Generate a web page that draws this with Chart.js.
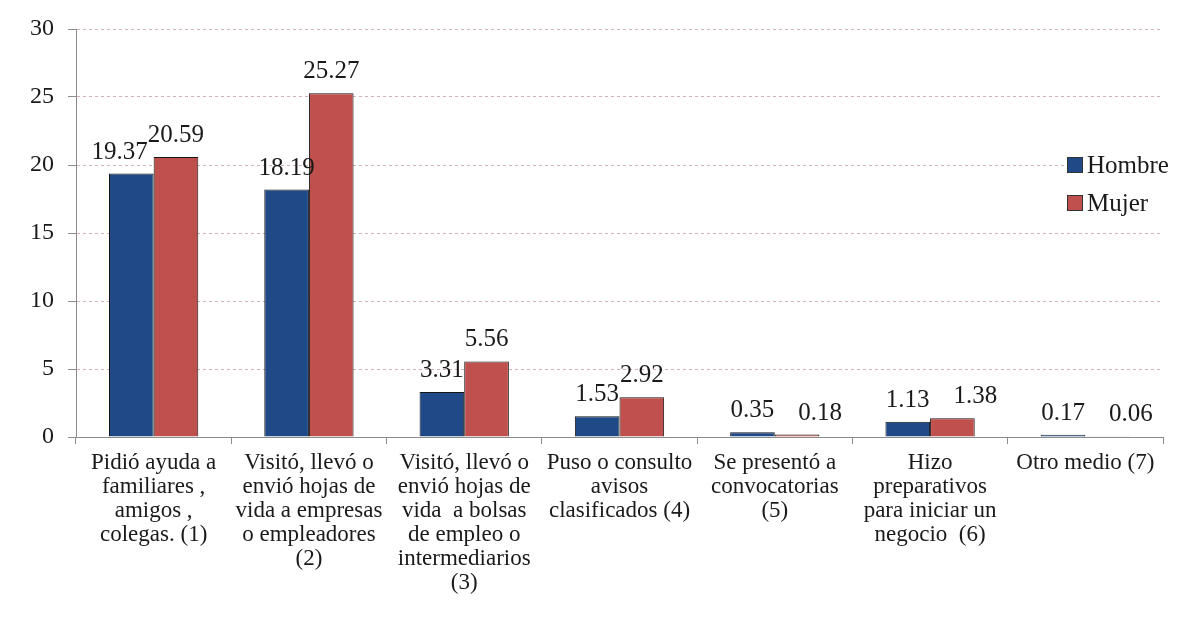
<!DOCTYPE html>
<html>
<head>
<meta charset="utf-8">
<script src="https://cdn.jsdelivr.net/npm/chart.js@4/dist/chart.umd.min.js"></script>
<style>
  body { margin: 0; background: #fff; }
  #wrap { width: 1177px; height: 629px; }
</style>
</head>
<body>
<div id="wrap"><canvas id="barChart"></canvas></div>
<script>
// Categories (multi-line labels)
const categories = [
    ['Pidió ayuda a', 'familiares ,', 'amigos ,', 'colegas. (1)'],
    ['Visitó, llevó o', 'envió hojas de', 'vida a empresas', 'o empleadores', '(2)'],
    ['Visitó, llevó o', 'envió hojas de', 'vida  a bolsas', 'de empleo o', 'intermediarios', '(3)'],
    ['Puso o consulto', 'avisos', 'clasificados (4)'],
    ['Se presentó a', 'convocatorias', '(5)'],
    ['Hizo', 'preparativos', 'para iniciar un', 'negocio  (6)'],
    ['Otro medio (7)'],
];

// Series values
const hombre = [19.37, 18.19, 3.31, 1.53, 0.35, 1.13, 0.17];
const mujer = [20.59, 25.27, 5.56, 2.92, 0.18, 1.38, 0.06];

// Y axis
const yMin = 0;
const yMax = 30;
const yStep = 5;

const SERIF = "'Liberation Serif', 'Times New Roman', serif";

// Value labels above bars, nudged apart when the pair would collide
const valueLabels = {
    id: 'valueLabels',
    afterDatasetsDraw(chart) {
        const ctx = chart.ctx;
        ctx.save();
        ctx.font = '25px ' + SERIF;
        ctx.fillStyle = '#1a1a1a';
        ctx.textAlign = 'center';
        ctx.textBaseline = 'alphabetic';
        const m0 = chart.getDatasetMeta(0).data;
        const m1 = chart.getDatasetMeta(1).data;
        const d0 = chart.data.datasets[0].data;
        const d1 = chart.data.datasets[1].data;
        m0.forEach((b0, j) => {
            const b1 = m1[j];
            const t0 = d0[j].toFixed(2);
            const t1 = d1[j].toFixed(2);
            const w0 = ctx.measureText(t0).width;
            const w1 = ctx.measureText(t1).width;
            let x0 = b0.x, x1 = b1.x;
            const y0 = b0.y - 15, y1 = b1.y - 15;
            const overlapX = (x0 + w0 / 2) - (x1 - w1 / 2);
            const dy = y0 - y1;
            if (overlapX > -8 && Math.abs(dy) < 18) {
                if (dy > 8) {
                    x0 -= overlapX;
                } else {
                    x1 += overlapX + 24;
                }
            }
            ctx.fillText(t0, x0, y0);
            ctx.fillText(t1, x1, y1);
        });
        ctx.restore();
    },
};

// Legend drawn inside the plot on the right
const sideLegend = {
    id: 'sideLegend',
    afterDraw(chart) {
        const ctx = chart.ctx;
        const x = 1067;
        const y0 = chart.scales.y.getPixelForValue(20);
        ctx.save();
        ctx.fillStyle = '#fff';
        ctx.fillRect(x + 17, y0 - 18, 100, 66);
        ctx.font = '25px ' + SERIF;
        ctx.textBaseline = 'middle';
        chart.data.datasets.forEach((ds, i) => {
            const cy = y0 + i * 38;
            ctx.fillStyle = ds.backgroundColor;
            ctx.fillRect(x, cy - 8, 16, 16);
            ctx.strokeStyle = '#333';
            ctx.lineWidth = 1;
            ctx.strokeRect(x + 0.5, cy - 7.5, 15, 15);
            ctx.fillStyle = '#1a1a1a';
            ctx.fillText(ds.label, x + 20, cy + 1);
        });
        ctx.restore();
    },
};

const ctx = document.getElementById('barChart').getContext('2d');
const barChart = new Chart(ctx, {
    type: 'bar',
    data: {
        labels: categories,
        datasets: [
            {
                label: 'Hombre',
                data: hombre,
                backgroundColor: '#1f4a87',
                borderColor: '#151515',
                borderWidth: 1,
            },
            {
                label: 'Mujer',
                data: mujer,
                backgroundColor: '#c0504d',
                borderColor: '#151515',
                borderWidth: 1,
            },
        ],
    },
    options: {
        responsive: true,
        maintainAspectRatio: false,
        animation: false,
        layout: { padding: { top: 29, right: 14, left: 0, bottom: 0 } },
        datasets: {
            bar: { categoryPercentage: 0.575, barPercentage: 1 },
        },
        plugins: {
            legend: { display: false },
            tooltip: { enabled: false },
        },
        scales: {
            x: {
                afterFit: (s) => { s.height = 192; },
                border: { color: '#8c8c8c', width: 1 },
                grid: {
                    offset: true,
                    drawOnChartArea: false,
                    tickLength: 7,
                    color: '#8c8c8c',
                },
                ticks: {
                    color: '#1a1a1a',
                    padding: 7,
                    maxRotation: 0,
                    autoSkip: false,
                    font: { family: SERIF, size: 23, lineHeight: '24px' },
                },
            },
            y: {
                min: yMin,
                max: yMax,
                afterFit: (s) => { s.width = 76; },
                border: { color: '#8c8c8c', width: 1, dash: [3, 3] },
                grid: {
                    color: '#cfb3b3',
                    tickColor: '#8c8c8c',
                    tickBorderDash: [],
                    tickLength: 8,
                },
                ticks: {
                    stepSize: yStep,
                    color: '#1a1a1a',
                    padding: 14,
                    font: { family: SERIF, size: 24 },
                },
            },
        },
    },
    plugins: [valueLabels, sideLegend],
});
</script>
</body>
</html>
